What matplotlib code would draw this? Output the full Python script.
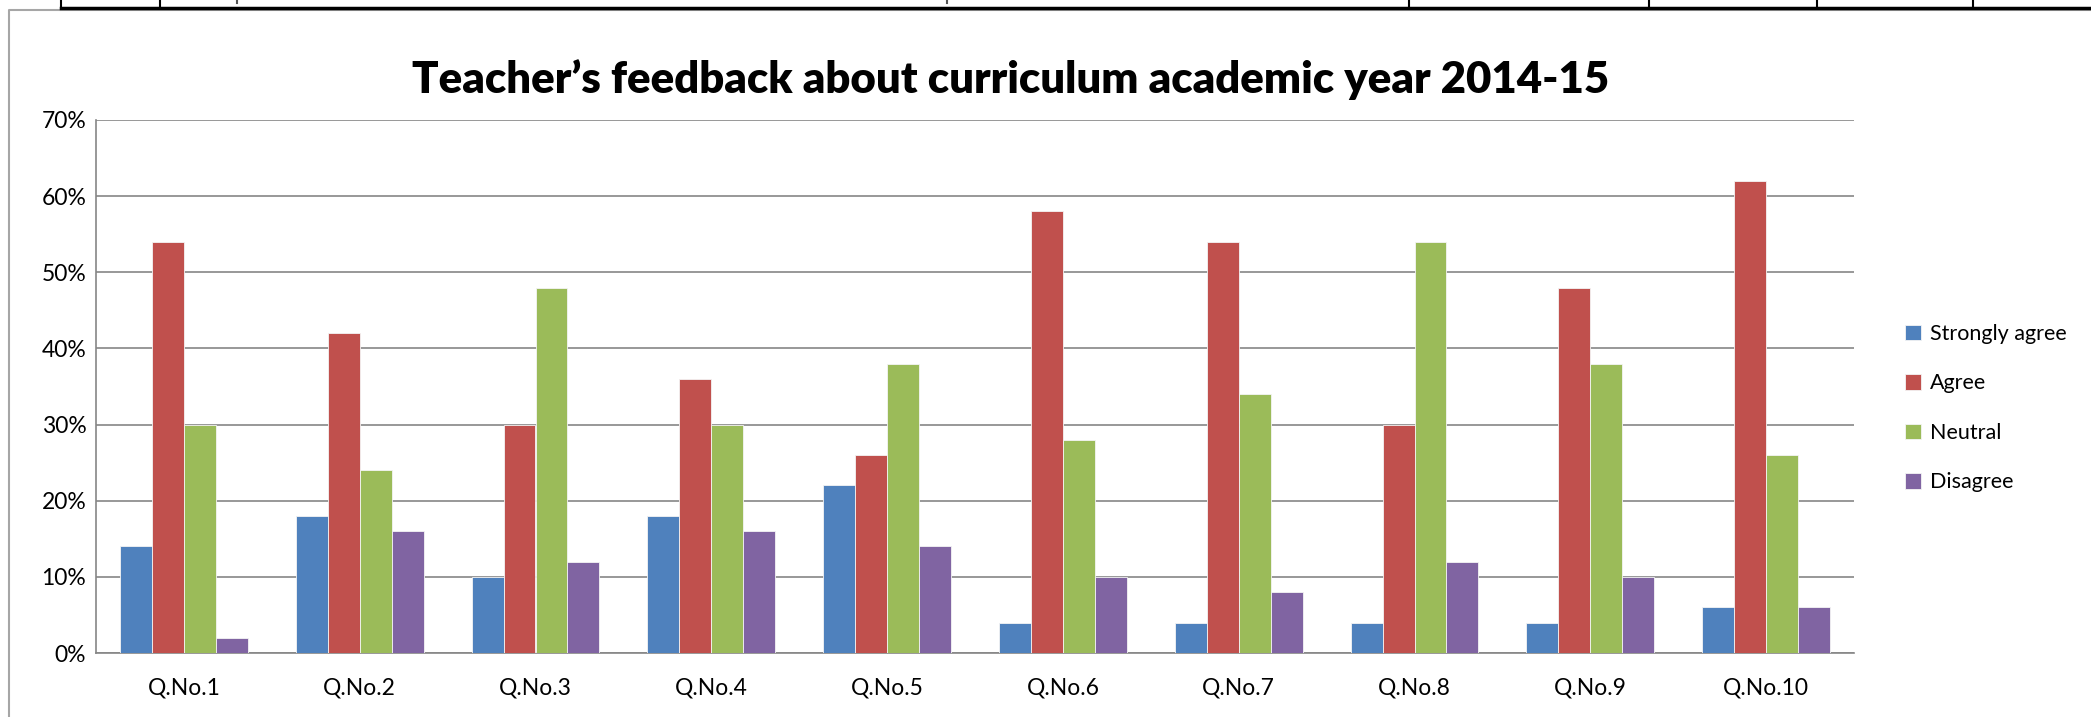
import numpy as np
import matplotlib
matplotlib.use("Agg")
import matplotlib.pyplot as plt
from matplotlib.lines import Line2D

# ------------------------------------------------------------------
# Data (percent of teachers)
# ------------------------------------------------------------------
questions = ["Q.No.1", "Q.No.2", "Q.No.3", "Q.No.4", "Q.No.5",
             "Q.No.6", "Q.No.7", "Q.No.8", "Q.No.9", "Q.No.10"]
series_names = ["Strongly agree", "Agree", "Neutral", "Disagree"]
strongly_agree = [14, 18, 10, 18, 22, 4, 4, 4, 4, 6]
agree = [54, 42, 30, 36, 26, 58, 54, 30, 48, 62]
neutral = [30, 24, 48, 30, 38, 28, 34, 54, 38, 26]
disagree = [2, 16, 12, 16, 14, 10, 8, 12, 10, 6]
y_ticks = [0, 10, 20, 30, 40, 50, 60, 70]

colors = ["#4F81BD", "#C0504D", "#9BBB59", "#8064A2"]
FONT = "Lato"
W, H = 2091, 717


def fx(px):
    return px / W


def fy(py):
    return 1 - py / H


fig = plt.figure(figsize=(W / 100, H / 100), dpi=100)
fig.patch.set_facecolor("white")

# plot area in pixel coordinates of the reference
left, right, top, bottom = 96, 1854, 120, 653
ax = fig.add_axes([fx(left), fy(bottom), fx(right - left), (bottom - top) / H])

all_series = [strongly_agree, agree, neutral, disagree]
x = np.arange(len(questions))
bar_w = 1 / 5.5  # Excel style gap width 150%
for i, (vals, name) in enumerate(zip(all_series, series_names)):
    ax.bar(x + (i - 1.5) * bar_w, np.array(vals) / 100, width=bar_w,
           color=colors[i], edgecolor="#f4f4f4", linewidth=0.6,
           label=name, zorder=3)

ax.set_xlim(-0.5, len(questions) - 0.5)
ax.set_ylim(0, 0.70)
ax.set_yticks(np.array(y_ticks) / 100)
ax.set_yticklabels([f"{t}%" for t in y_ticks], fontsize=16.5, family=FONT)
ax.set_xticks(x)
ax.set_xticklabels(questions, fontsize=16.5, family=FONT)
ax.tick_params(axis="both", length=0, colors="black")
ax.tick_params(axis="y", pad=7)
ax.tick_params(axis="x", pad=18)

ax.yaxis.grid(True, color="#868686", linewidth=1.2, zorder=0)
ax.set_axisbelow(True)
for side in ["top", "right"]:
    ax.spines[side].set_visible(False)
for side in ["left", "bottom"]:
    ax.spines[side].set_color("#868686")
    ax.spines[side].set_linewidth(1.2)

# Title
fig.text(fx(1011), fy(80), "Teacher\u2019s feedback about curriculum academic year 2014-15",
         ha="center", va="center", fontsize=31.5, fontweight="heavy", family=FONT)

# Legend on the right
ax.legend(loc="upper left", bbox_to_anchor=(fx(1905), fy(324)),
          bbox_transform=fig.transFigure, frameon=False,
          prop={"family": FONT, "size": 15.5},
          handlelength=0.75, handleheight=0.75, handletextpad=0.4,
          labelspacing=1.37, borderpad=0, borderaxespad=0)

# Chart border (gray) and the table rule above it
fig.add_artist(Line2D([fx(9), fx(9), fx(W)], [fy(H), fy(10), fy(10)],
                      transform=fig.transFigure, color="#a6a6a6", linewidth=1.5))
fig.add_artist(Line2D([fx(61), fx(W)], [fy(8), fy(8)],
                      transform=fig.transFigure, color="black", linewidth=2.5))
for vx in [61, 160, 1409, 1649, 1817, 1973]:
    fig.add_artist(Line2D([fx(vx), fx(vx)], [fy(0), fy(8)],
                          transform=fig.transFigure, color="black", linewidth=1.5))
for mx in [237, 947]:
    fig.add_artist(Line2D([fx(mx), fx(mx)], [fy(0), fy(3)],
                          transform=fig.transFigure, color="#555555", linewidth=1.5))

plt.savefig("out.png", dpi=100)
